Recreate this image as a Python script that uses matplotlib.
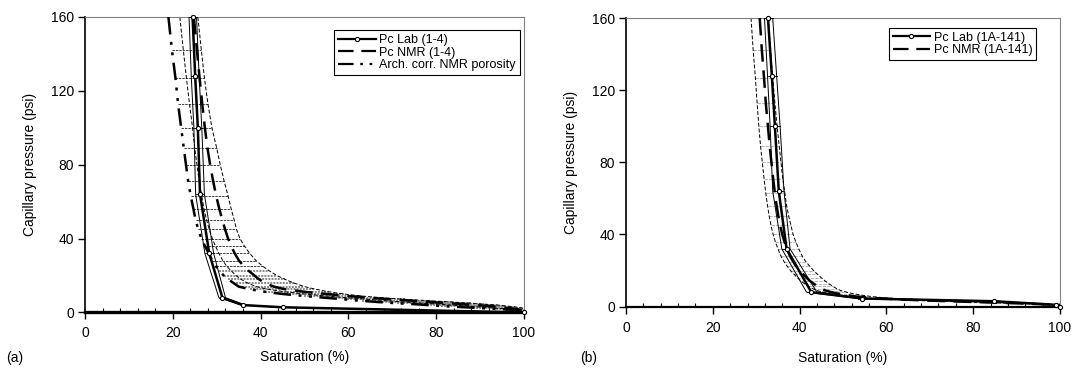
import matplotlib
matplotlib.use("Agg")
import matplotlib.pyplot as plt
from matplotlib.lines import Line2D

plt.rcParams['font.family'] = ['Liberation Sans', 'DejaVu Sans']

# ---------------- Panel (a) data ----------------
lab_a_p = [160, 128, 100, 64, 32, 8, 4, 2.8, 0]
lab_a_s = [24.5, 25.1, 25.7, 26.2, 28.3, 31.3, 36.0, 45.0, 100]
lab_a_lo = [23.7, 24.2, 24.8, 25.2, 27.3, 30.5, 35.5, 44.5, 100]
lab_a_hi = [25.4, 26.0, 26.6, 27.2, 29.3, 32.0, 36.5, 45.5, 100]

nmr_p = [160, 142, 127, 113, 100, 89, 80, 71, 63, 56, 50, 45, 40, 36, 32, 28, 25,
         22.5, 20, 18, 16, 14, 12.6, 11.2, 10, 8.9, 7.9, 7.1, 6.3, 5.6, 5.0, 4.5,
         4.0, 3.5, 3.0, 2.5, 2.0, 1.5, 1.0]

nmr_a_s = [24.8, 25.5, 26.1, 26.7, 27.3, 27.9, 28.5, 29.2, 29.9, 30.6, 31.3, 31.9,
           32.6, 33.3, 34.1, 35.1, 36.2, 37.3, 38.6, 39.6, 41.0, 43.0, 45.5, 50.0,
           55.0, 60.0, 65.0, 70.0, 75.0, 79.0, 83.0, 86.0, 89.0, 92.0, 94.0, 96.0,
           98.0, 99.0, 100]
arch_a_s = [19.0, 19.8, 20.6, 21.2, 21.9, 22.5, 23.0, 23.5, 24.1, 24.7, 25.2, 25.8,
            26.5, 27.3, 28.2, 29.0, 29.8, 30.6, 31.6, 32.6, 33.8, 35.0, 37.5, 41.0,
            45.0, 50.0, 55.0, 59.0, 63.0, 67.0, 71.0, 75.0, 78.0, 81.0, 85.0, 89.0,
            93.0, 97.0, 100]
nmr_a_lo = [21.6, 22.4, 23.1, 23.8, 24.5, 25.0, 25.5, 26.0, 26.6, 27.1, 27.7, 28.3,
            29.0, 29.7, 30.5, 31.4, 32.3, 33.3, 34.4, 35.5, 37.0, 39.0, 41.5, 45.5,
            50.0, 55.0, 60.0, 64.5, 69.0, 73.0, 77.0, 80.5, 83.5, 86.5, 89.5, 92.5,
            95.5, 98.0, 100]
nmr_a_hi = [25.7, 26.5, 27.2, 28.0, 28.9, 30.0, 30.8, 31.7, 32.6, 33.3, 34.0, 34.5,
            35.3, 36.3, 37.5, 39.0, 40.5, 42.0, 43.7, 45.5, 47.5, 50.0, 52.5, 55.5,
            59.0, 63.0, 68.0, 73.0, 79.0, 84.0, 88.0, 91.0, 94.0, 96.0, 98.0, 99.5,
            100, 100, 100]

# ---------------- Panel (b) data ----------------
lab_b_p = [160, 128, 100, 64, 32, 8, 4.5, 3, 1, 0]
lab_b_s = [32.7, 33.6, 34.3, 35.2, 37.0, 42.7, 54.4, 84.8, 99.0, 100]
lab_b_lo = [31.9, 32.6, 33.2, 33.8, 35.9, 41.6, 53.5, 84.0, 98.5, 100]
lab_b_hi = [33.8, 34.7, 35.5, 36.4, 37.8, 44.0, 55.5, 85.5, 99.5, 100]

nmr_b_s = [30.8, 31.3, 31.8, 32.2, 32.7, 33.1, 33.5, 33.9, 34.3, 34.7, 35.1, 35.5,
           36.0, 36.5, 37.1, 37.8, 38.5, 39.2, 40.0, 40.8, 41.6, 42.5, 43.3, 44.2,
           45.0, 46.0, 47.5, 49.0, 51.0, 53.0, 56.0, 59.0, 63.0, 68.0, 74.0, 81.0,
           88.0, 94.0, 100]
nmr_b_lo = [28.8, 29.3, 29.8, 30.2, 30.6, 31.0, 31.4, 31.8, 32.2, 32.6, 33.0, 33.4,
            33.9, 34.4, 35.0, 35.7, 36.4, 37.1, 37.9, 38.7, 39.5, 40.4, 41.2, 42.1,
            43.0, 44.0, 45.5, 47.0, 49.0, 51.0, 54.0, 57.0, 61.0, 66.0, 72.0, 79.0,
            86.0, 93.0, 100]
nmr_b_hi = [32.8, 33.3, 33.8, 34.3, 34.8, 35.3, 35.7, 36.1, 36.6, 37.0, 37.5, 38.0,
            38.5, 39.1, 39.8, 40.6, 41.4, 42.3, 43.2, 44.1, 45.0, 46.0, 46.8, 47.7,
            48.5, 49.5, 51.0, 52.5, 54.5, 56.5, 59.0, 62.0, 66.0, 70.0, 76.0, 83.0,
            90.0, 96.0, 100]

x_ticks = [0, 20, 40, 60, 80, 100]
y_ticks = [0, 40, 80, 120, 160]

FS = 10
fig = plt.figure(figsize=(10.79, 3.76), dpi=100)
ax_a = fig.add_axes([0.0788, 0.1690, 0.4068, 0.7858])
ax_b = fig.add_axes([0.5802, 0.1845, 0.4022, 0.7676])

DASH_NMR = (0, (7, 3.5))
DASH_ARCH = (0, (7, 3, 1.2, 3, 1.2, 3))
DASH_THIN = (0, (4, 2))


def style(ax, bottom_lw, xlabelpad):
    ax.set_xlim(0, 100)
    ax.set_ylim(0, 160)
    ax.set_xticks(x_ticks)
    ax.set_yticks(y_ticks)
    ax.set_xticks(list(range(0, 101, 4)), minor=True)
    ax.tick_params(axis='x', which='major', direction='out', length=5, width=1, labelsize=FS, pad=5)
    ax.tick_params(axis='x', which='minor', direction='in', length=3, width=0.8)
    ax.tick_params(axis='y', which='major', direction='out', length=5, width=1, labelsize=FS, pad=3)
    for side in ['top', 'right']:
        ax.spines[side].set_color('#808080')
        ax.spines[side].set_linewidth(0.8)
    ax.spines['left'].set_linewidth(1.2)
    ax.spines['bottom'].set_linewidth(bottom_lw)
    ax.set_xlabel('Saturation (%)', fontsize=FS, labelpad=xlabelpad)
    ax.set_ylabel('Capillary pressure (psi)', fontsize=FS, labelpad=10)


# ---------- Panel (a) ----------
ax = ax_a
for p, lo, hi in zip(nmr_p, arch_a_s, nmr_a_hi):
    if p >= 25:
        ax.plot([lo, hi], [p, p], color='#404040', lw=0.7, linestyle=(0, (2.5, 1)), zorder=1)
    else:
        ax.plot([lo, hi], [p, p], color='#8a8a8a', lw=1.4, linestyle=(0, (1, 0.6)), zorder=1)
ax.plot(nmr_a_lo, nmr_p, color='black', lw=0.7, linestyle=DASH_THIN, zorder=2)
ax.plot(nmr_a_hi, nmr_p, color='black', lw=0.7, linestyle=DASH_THIN, zorder=2)
for p, lo, hi in zip(lab_a_p, lab_a_lo, lab_a_hi):
    ax.plot([lo, hi], [p, p], color='black', lw=0.6, zorder=3)
ax.plot(lab_a_lo, lab_a_p, color='black', lw=0.7, zorder=3)
ax.plot(lab_a_hi, lab_a_p, color='black', lw=0.7, zorder=3)
ax.plot(arch_a_s, nmr_p, color='black', lw=1.8, linestyle=DASH_ARCH, zorder=4)
ax.plot(nmr_a_s, nmr_p, color='black', lw=1.8, linestyle=DASH_NMR, zorder=4)
ax.plot(lab_a_s, lab_a_p, color='black', lw=1.8, marker='o', ms=3, mfc='white',
        mec='black', mew=0.8, zorder=5, clip_on=False)
style(ax, 2.4, 7)

h_lab = Line2D([], [], color='black', lw=1.6, marker='o', ms=3, mfc='white', mec='black', mew=0.8)
h_nmr = Line2D([], [], color='black', lw=1.6, linestyle=DASH_NMR)
h_arch = Line2D([], [], color='black', lw=1.6, linestyle=DASH_ARCH)
leg = ax.legend([h_lab, h_nmr, h_arch],
                ['Pc Lab (1-4)', 'Pc NMR (1-4)', 'Arch. corr. NMR porosity'],
                loc='upper right', bbox_to_anchor=(0.99, 0.955), fontsize=9,
                frameon=True, fancybox=False, edgecolor='black', framealpha=1,
                handlelength=3.0, handletextpad=0.3, labelspacing=0.05,
                borderpad=0.3, borderaxespad=0)
leg.get_frame().set_linewidth(0.8)

# ---------- Panel (b) ----------
ax = ax_b
for p, lo, hi in zip(nmr_p, nmr_b_lo, nmr_b_hi):
    ax.plot([lo, hi], [p, p], color='#b8b8b8', lw=0.8, linestyle=(0, (3, 1)), zorder=1)
ax.plot(nmr_b_lo, nmr_p, color='black', lw=0.7, linestyle=DASH_THIN, zorder=2)
ax.plot(nmr_b_hi, nmr_p, color='black', lw=0.7, linestyle=DASH_THIN, zorder=2)
for p, lo, hi in zip(lab_b_p, lab_b_lo, lab_b_hi):
    ax.plot([lo, hi], [p, p], color='black', lw=0.6, zorder=3)
ax.plot(lab_b_lo, lab_b_p, color='black', lw=0.7, zorder=3)
ax.plot(lab_b_hi, lab_b_p, color='black', lw=0.7, zorder=3)
ax.plot(nmr_b_s, nmr_p, color='black', lw=1.8, linestyle=DASH_NMR, zorder=4)
ax.plot(lab_b_s, lab_b_p, color='black', lw=1.8, marker='o', ms=3, mfc='white',
        mec='black', mew=0.8, zorder=5, clip_on=False)
style(ax, 1.6, 12)

leg = ax.legend([h_lab, h_nmr], ['Pc Lab (1A-141)', 'Pc NMR (1A-141)'],
                loc='upper right', bbox_to_anchor=(0.945, 0.965), fontsize=9,
                frameon=True, fancybox=False, edgecolor='black', framealpha=1,
                handlelength=3.0, handletextpad=0.3, labelspacing=0.05,
                borderpad=0.3, borderaxespad=0)
leg.get_frame().set_linewidth(0.8)

fig.text(6 / 1079, 1 - 358 / 376, '(a)', fontsize=FS, va='center', ha='left')
fig.text(580 / 1079, 1 - 358 / 376, '(b)', fontsize=FS, va='center', ha='left')

fig.savefig('out.png', dpi=100)
